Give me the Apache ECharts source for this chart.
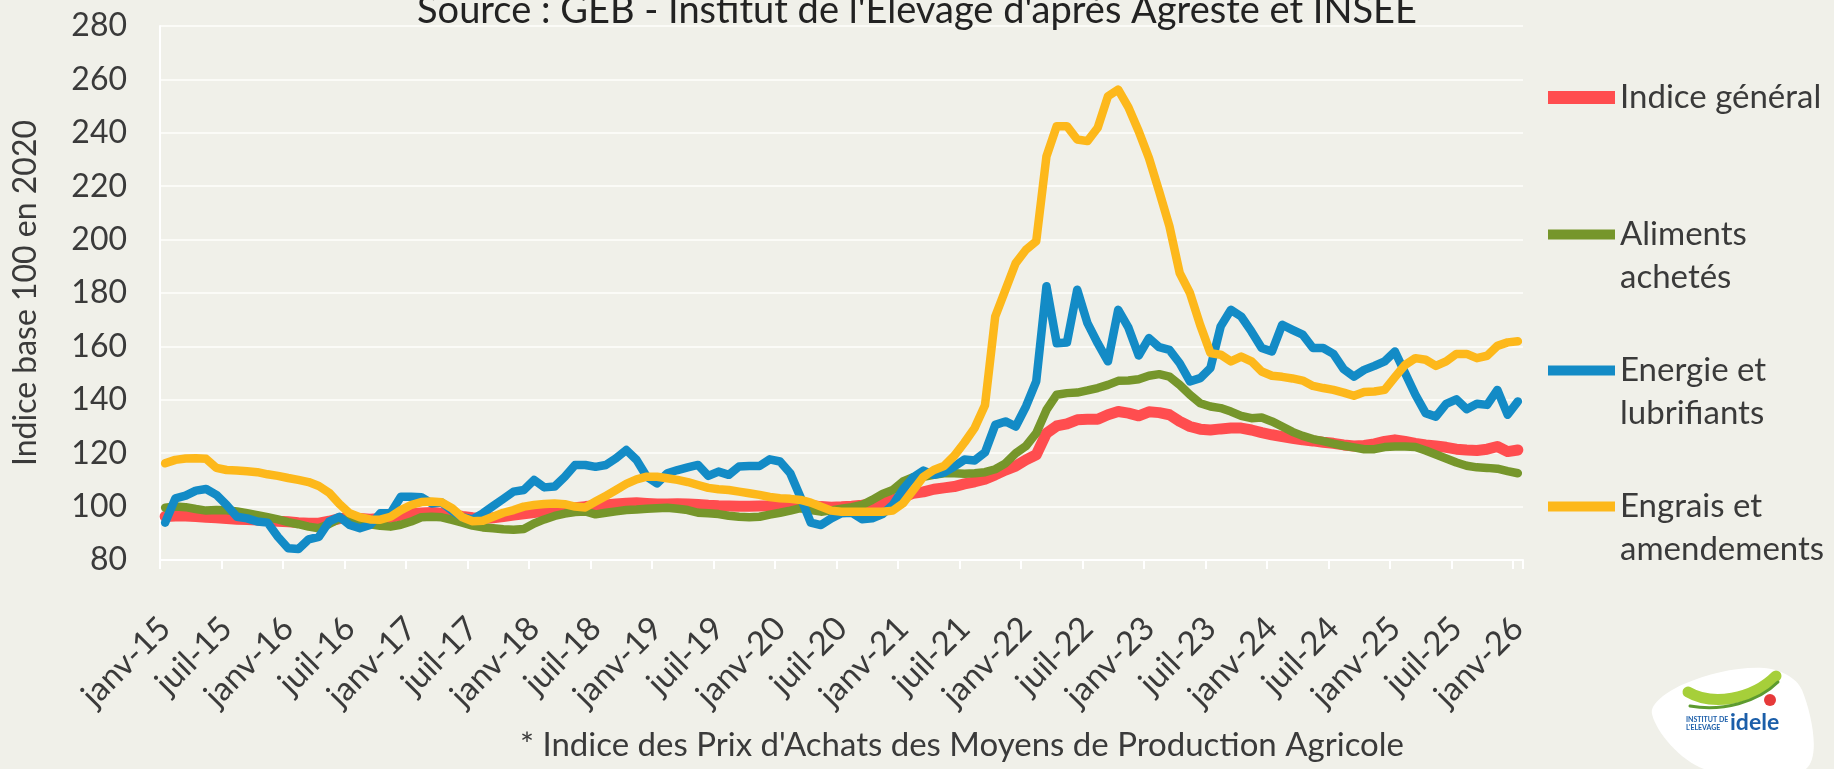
<!DOCTYPE html>
<html>
<head>
<meta charset="utf-8">
<script src="https://cdn.jsdelivr.net/npm/echarts/dist/echarts.min.js"></script>
<style>
  html, body { margin: 0; padding: 0; background: #f0f0e9; }
  #chart { width: 1834px; height: 769px; }
</style>
</head>
<body>
<div id="chart"></div>
<script>
// mois affichés sur l'axe (janv-15 ... janv-26)
const monthNames = ['janv', 'févr', 'mars', 'avr', 'mai', 'juin', 'juil', 'août', 'sept', 'oct', 'nov', 'déc'];
const categories = [];
for (let y = 15; y <= 26; y++) {
  monthNames.forEach((m, k) => {
    if (y < 26 || k === 0) categories.push(m + '-' + y);
  });
}

const yTicks = [80, 100, 120, 140, 160, 180, 200, 220, 240, 260, 280];

// Indice général
const indiceGeneral = [
  96.3, 96.5, 96.5, 96.3, 96.0, 95.8, 95.5, 95.3, 95.2, 95.0, 94.8, 94.5,
  94.3, 94.0, 93.8, 93.8, 94.5, 95.5, 95.8, 95.5, 95.3, 95.5, 96.0, 96.8,
  97.3, 97.6, 97.8, 97.5, 97.0, 96.3, 95.8, 95.5, 95.8, 96.3, 96.8, 97.3,
  97.8, 98.3, 98.8, 99.3, 99.6, 100.0, 100.3, 100.6, 101.0, 101.3, 101.4, 101.2,
  101.0, 101.0, 101.1, 101.0, 100.8, 100.5, 100.3, 100.2, 100.1, 100.1, 100.2, 100.3,
  100.5, 100.7, 100.8, 100.4, 100.0, 99.8, 99.9, 100.1, 100.5, 101.0, 101.5, 102.5,
  103.5, 105.0, 105.5, 106.5, 107.0, 107.5, 108.5, 109.3, 110.3, 111.9, 113.7, 115.2,
  117.5, 119.4, 127.5, 130.2, 131.0, 132.5, 132.7, 132.7, 134.4, 135.6, 135.0, 134.0,
  135.5, 135.2, 134.4, 131.9, 130.0, 129.0, 128.7, 129.1, 129.4, 129.4, 128.7, 127.7,
  126.9, 126.2, 125.6, 125.0, 124.6, 124.1, 123.7, 123.1, 122.7, 122.9, 123.5, 124.4,
  125.0, 124.4, 123.7, 123.1, 122.7, 122.2, 121.5, 121.2, 121.0, 121.5, 122.5, 120.6, 121.2
];

// Aliments achetés
const aliments = [
  99.6, 100.0, 99.8, 99.1, 98.5, 98.7, 98.6, 98.2, 97.5, 96.8, 96.0, 95.2,
  94.2, 93.4, 92.5, 91.9, 93.5, 95.5, 94.8, 93.8, 93.4, 92.8, 92.5, 93.2,
  94.4, 96.0, 96.2, 96.0, 95.0, 94.0, 92.9, 92.2, 91.9, 91.5, 91.3, 91.6,
  93.7, 95.2, 96.5, 97.4, 98.0, 98.2, 97.1, 97.7, 98.2, 98.7, 98.9, 99.2,
  99.4, 99.6, 99.2, 98.7, 97.7, 97.5, 97.2, 96.6, 96.2, 96.0, 96.2, 97.0,
  97.7, 98.5, 99.4, 98.7, 98.1, 98.6, 99.2, 99.8, 100.6, 102.5, 104.7, 106.2,
  109.4, 111.0, 111.2, 111.9, 112.5, 112.5, 112.3, 112.5, 112.9, 114.0, 116.2, 120.0,
  122.7, 127.5, 136.2, 141.9, 142.5, 142.7, 143.5, 144.4, 145.6, 147.1, 147.2, 147.7,
  149.0, 149.6, 148.7, 145.6, 141.9, 138.7, 137.5, 136.9, 135.6, 134.0, 133.1, 133.4,
  131.9, 130.0, 128.0, 126.5, 125.3, 124.5, 123.6, 122.8, 122.2, 121.5, 121.5, 122.3,
  122.5, 122.5, 122.3, 121.0, 119.5, 118.0, 116.5, 115.3, 114.7, 114.5, 114.2, 113.3, 112.5
];

// Energie et lubrifiants
const energie = [
  94.0, 103.1, 104.1, 106.0, 106.6, 104.4, 100.6, 96.2, 95.6, 94.4, 94.0, 88.7,
  84.4, 84.1, 87.7, 88.7, 94.4, 96.2, 93.1, 91.9, 93.1, 97.5, 97.5, 103.7,
  103.7, 103.5, 101.2, 101.5, 98.5, 96.0, 95.2, 97.5, 100.2, 102.9, 105.6, 106.2,
  110.0, 107.2, 107.5, 111.2, 115.6, 115.6, 114.9, 115.6, 118.1, 121.2, 117.5, 111.2,
  108.7, 112.5, 113.7, 114.7, 115.6, 111.5, 113.1, 111.9, 115.0, 115.2, 115.2, 117.7,
  116.9, 112.5, 103.5, 94.0, 93.1, 95.6, 97.5, 97.7, 95.3, 95.6, 97.2, 100.6,
  106.5, 111.0, 113.5, 111.9, 112.7, 115.0, 117.6, 117.3, 120.3, 130.6, 131.9, 130.0,
  137.5, 146.9, 182.5, 161.2, 161.5, 181.2, 168.7, 161.2, 154.4, 173.7, 167.0, 156.6,
  163.1, 159.7, 158.7, 153.7, 146.9, 148.1, 151.9, 167.5, 173.7, 171.2, 165.6, 159.4,
  158.1, 168.1, 166.2, 164.4, 159.4, 159.4, 157.2, 151.5, 148.7, 151.2, 152.7, 154.4,
  158.1, 150.0, 141.9, 135.0, 133.7, 138.5, 140.2, 136.5, 138.5, 138.1, 143.7, 134.4, 139.4
];

// Engrais et amendements
const engrais = [
  116.2, 117.5, 118.0, 118.1, 117.9, 114.5, 113.7, 113.5, 113.2, 112.9, 112.1, 111.5,
  110.7, 110.0, 109.2, 107.7, 105.2, 101.0, 97.5, 96.0, 95.2, 95.1, 96.2, 98.7,
  100.6, 101.7, 101.9, 101.6, 99.4, 96.0, 94.5, 94.7, 96.2, 97.7, 98.7, 100.0,
  100.6, 101.0, 101.2, 100.9, 100.0, 99.7, 101.9, 104.0, 106.2, 108.5, 110.2, 111.2,
  111.2, 110.6, 110.0, 109.2, 108.1, 107.0, 106.5, 106.2, 105.6, 105.0, 104.4, 103.6,
  103.1, 102.9, 102.5, 101.5, 100.0, 98.5, 98.1, 98.1, 98.1, 98.1, 98.1, 98.5,
  101.2, 106.2, 111.2, 113.7, 115.2, 119.0, 124.0, 129.5, 138.0, 171.2, 181.2, 191.2,
  196.2, 199.4, 231.2, 242.5, 242.5, 237.5, 236.9, 241.9, 253.7, 256.2, 249.5, 240.6,
  230.6, 218.0, 205.0, 187.5, 180.0, 168.0, 157.5, 156.9, 154.4, 156.2, 154.4, 150.6,
  149.0, 148.6, 148.0, 147.2, 145.2, 144.4, 143.7, 142.7, 141.5, 142.9, 143.1, 143.7,
  148.5, 153.1, 155.6, 155.0, 152.7, 154.4, 157.2, 157.2, 155.6, 156.5, 160.2, 161.5, 161.9
];

const seriesNames = ['Indice général', 'Aliments achetés', 'Energie et lubrifiants', 'Engrais et amendements'];
// ligne vide en tête : la pastille tombe sur la 1re ligne du libellé
const legendLabels = ['Indice général', '\u00a0\nAliments\nachetés', '\u00a0\nEnergie et\nlubrifiants', '\u00a0\nEngrais et\namendements'];
const colors = ['#FF4D4F', '#76962B', '#138BC6', '#FDB81B'];

const FONT = 'Lato, "Open Sans", sans-serif';
const TXT = '#3a3a3a';

const chart = echarts.init(document.getElementById('chart'));

const legendTops = [76, 170, 306, 442];
const legends = seriesNames.map((name, k) => ({
  left: 1548,
  top: legendTops[k],
  padding: 0,
  selectedMode: false,
  icon: 'rect',
  itemWidth: 67,
  itemHeight: k === 0 ? 13 : 10,
  formatter: () => legendLabels[k],
  textStyle: {
    fontFamily: FONT,
    fontSize: 33,
    lineHeight: 43,
    color: TXT,
  },
  data: [name],
}));

const option = {
  backgroundColor: '#f0f0e9',
  animation: false,
  color: colors,
  title: [
    {
      text: "Source : GEB - Institut de l'Elevage d'après Agreste et INSEE",
      left: 'center',
      top: -13,
      textStyle: { fontFamily: FONT, fontSize: 38, fontWeight: 'normal', color: '#222' },
    },
    {
      text: "* Indice des Prix d'Achats des Moyens de Production Agricole",
      left: 957,
      textAlign: 'center',
      top: 724,
      textStyle: { fontFamily: FONT, fontSize: 33, fontWeight: 'normal', color: TXT },
    },
  ],
  legend: legends,
  grid: { left: 160, right: 311, top: 26, bottom: 209 },
  xAxis: {
    type: 'category',
    data: categories,
    boundaryGap: true,
    axisLine: { lineStyle: { color: '#ffffff', width: 2 } },
    axisTick: { show: true, interval: 5, length: 9, lineStyle: { color: '#ffffff', width: 2 } },
    axisLabel: {
      interval: 5,
      rotate: 45,
      margin: 63,
      fontFamily: FONT,
      fontSize: 33,
      color: TXT,
    },
  },
  yAxis: {
    type: 'value',
    min: yTicks[0],
    max: yTicks[yTicks.length - 1],
    interval: 20,
    name: 'Indice base 100 en 2020',
    nameLocation: 'middle',
    nameGap: 118,
    nameTextStyle: { fontFamily: FONT, fontSize: 32, color: TXT },
    axisLine: { show: true, lineStyle: { color: '#ffffff', width: 2 } },
    axisTick: { show: false },
    axisLabel: { margin: 33, fontFamily: FONT, fontSize: 32, color: TXT },
    splitLine: { lineStyle: { color: '#fbfbf7', width: 2 } },
  },
  series: [indiceGeneral, aliments, energie, engrais].map((d, k) => ({
    name: seriesNames[k],
    type: 'line',
    data: d,
    symbol: 'none',
    smooth: false,
    lineStyle: { width: k === 0 ? 11 : 8.5, cap: 'round', join: 'round' },
    z: 2 + k,
  })),
  graphic: [
    // logo idele (approximation)
    {
      type: 'polygon',
      shape: {
        points: [[1652, 714], [1684, 684], [1764, 668], [1802, 690], [1806, 769], [1704, 769]],
        smooth: 0.35,
      },
      style: { fill: '#ffffff' },
    },
    {
      type: 'bezierCurve',
      shape: { x1: 1688, y1: 692, cpx1: 1712, cpy1: 706, cpx2: 1752, cpy2: 700, x2: 1776, y2: 676 },
      style: { fill: null, stroke: '#a6cf3a', lineWidth: 11, lineCap: 'round' },
    },
    {
      type: 'bezierCurve',
      shape: { x1: 1690, y1: 706, cpx1: 1722, cpy1: 712, cpx2: 1758, cpy2: 702, x2: 1778, y2: 682 },
      style: { fill: null, stroke: '#5d9b2f', lineWidth: 3, lineCap: 'round' },
    },
    {
      type: 'circle',
      shape: { cx: 1770, cy: 700, r: 6 },
      style: { fill: '#e63a3a' },
    },
    {
      type: 'text',
      left: 1686,
      top: 716,
      style: { text: "INSTITUT DE\nL'ELEVAGE", font: 'bold 7px Lato', fill: '#1b5ea9', lineHeight: 8 },
    },
    {
      type: 'text',
      left: 1730,
      top: 711,
      style: { text: 'idele', font: 'bold 23px Lato', fill: '#1b5ea9' },
    },
  ],
};

chart.setOption(option);
</script>
</body>
</html>
